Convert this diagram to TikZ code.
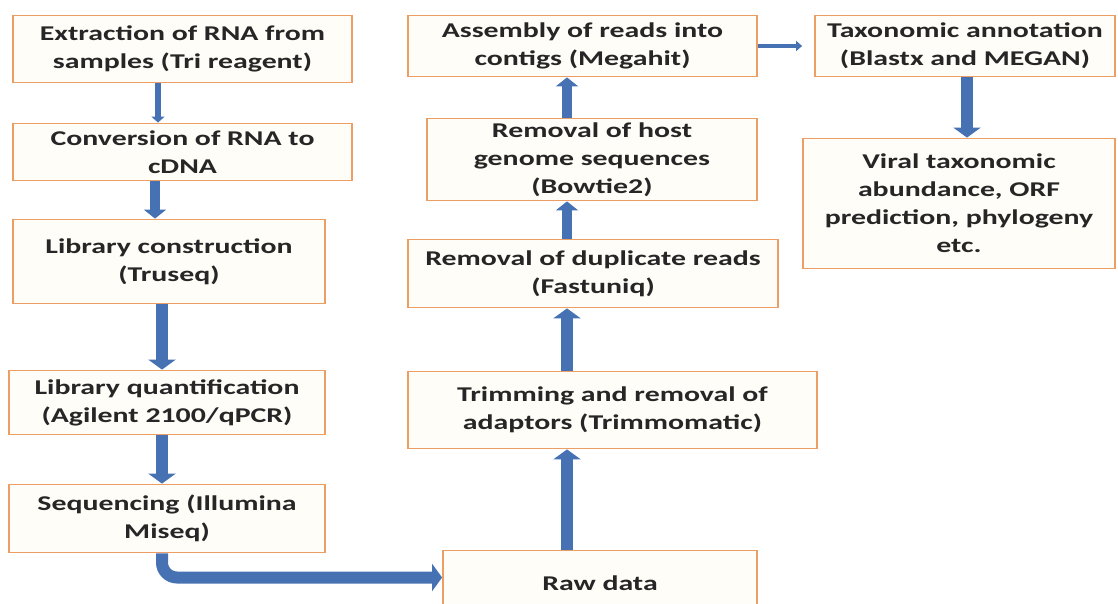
\documentclass[tikz,border=0pt]{standalone}
\usepackage{fontspec}
\setmainfont[FakeStretch=1.42]{Carlito}
\usetikzlibrary{arrows.meta, positioning}
\definecolor{boxline}{RGB}{236,158,100}
\definecolor{boxfill}{RGB}{255,253,248}
\definecolor{flowblue}{RGB}{70,114,180}

\begin{document}
\begin{tikzpicture}[x=1pt, y=-1pt, font=\fontsize{21}{28}\selectfont\bfseries]
			\tikzstyle{stepbox}=[draw=boxline, fill=boxfill, line width=1.8pt, align=center, inner sep=0pt, text=black!85]
			\tikzstyle{fat}=[draw=flowblue, line width=12pt, -{Triangle[width=27pt,length=10pt]}]
			\tikzstyle{mid}=[draw=flowblue, line width=10pt, -{Triangle[width=22pt,length=9pt]}]
			\tikzstyle{thin}=[draw=flowblue, line width=6pt, -{Triangle[width=13pt,length=6pt]}]
			\tikzstyle{hair}=[draw=flowblue, line width=4pt, -{Triangle[width=10pt,length=6pt]}]
			
			\useasboundingbox (0,0) rectangle (1118,604);
			
			% left column
			\node[stepbox, minimum width=339pt, minimum height=67pt] (extract) at (182.5,49) {Extraction of RNA from\\samples (Tri reagent)};
			\node[stepbox, minimum width=339pt, minimum height=57pt] (convert) at (182.5,152) {Conversion of RNA to\\cDNA};
			\node[stepbox, minimum width=312pt, minimum height=84pt] (libcon) at (169,261.5) {Library construction\\(Truseq)};
			\node[stepbox, minimum width=316pt, minimum height=64pt] (libquant) at (167,402.5) {Library quantification\\(Agilent 2100/qPCR)};
			\node[stepbox, minimum width=316pt, minimum height=68pt] (seq) at (167,518.5) {Sequencing (Illumina\\Miseq)};
			
			% middle column
			\node[stepbox, minimum width=314pt, minimum height=66pt] (raw) at (600,583.5) {Raw data};
			\node[stepbox, minimum width=409pt, minimum height=77pt] (trim) at (612.5,410) {Trimming and removal of\\adaptors (Trimmomatic)};
			\node[stepbox, minimum width=370pt, minimum height=68pt] (dup) at (593,273.5) {Removal of duplicate reads\\(Fastuniq)};
			\node[stepbox, minimum width=330pt, minimum height=82pt] (host) at (592,159.5) {Removal of host\\genome sequences\\(Bowtie2)};
			\node[stepbox, minimum width=349pt, minimum height=61pt] (assembly) at (582.5,46) {Assembly of reads into\\contigs (Megahit)};
			
			% right column
			\node[stepbox, minimum width=300pt, minimum height=61pt] (taxo) at (965,46) {Taxonomic annotation\\(Blastx and MEGAN)};
			\node[stepbox, minimum width=312pt, minimum height=130pt] (viral) at (959,203.5) {Viral taxonomic\\abundance, ORF\\prediction, phylogeny\\etc.};
			
			\coordinate (leftcol) at (162,0);
			\coordinate (midcol) at (567,0);
			\coordinate (rightcol) at (967,0);
			
			\draw[thin] ([xshift=-24.5pt]extract.south) -- ([xshift=-24.5pt]extract.south |- convert.north);
			\draw[mid] ([xshift=-27.5pt]convert.south) -- ([xshift=-27.5pt]convert.south |- libcon.north);
			\draw[fat] (libcon.south -| leftcol) -- (libquant.north -| leftcol);
			\draw[fat] (libquant.south -| leftcol) -- (seq.north -| leftcol);
			\draw[fat, rounded corners=15pt] (seq.south -| leftcol) |- ([yshift=6pt]raw.west);
			
			\draw[fat] (raw.north -| midcol) -- (trim.south -| midcol);
			\draw[fat] (trim.north -| midcol) -- (dup.south -| midcol);
			\draw[mid] (dup.north -| midcol) -- (host.south -| midcol);
			\draw[mid] (host.north -| midcol) -- (assembly.south -| midcol);
			\draw[hair, shorten >=12pt] (assembly.east) -- (taxo.west);
			\draw[fat] (taxo.south -| rightcol) -- (viral.north -| rightcol);
		\end{tikzpicture}
\end{document}
